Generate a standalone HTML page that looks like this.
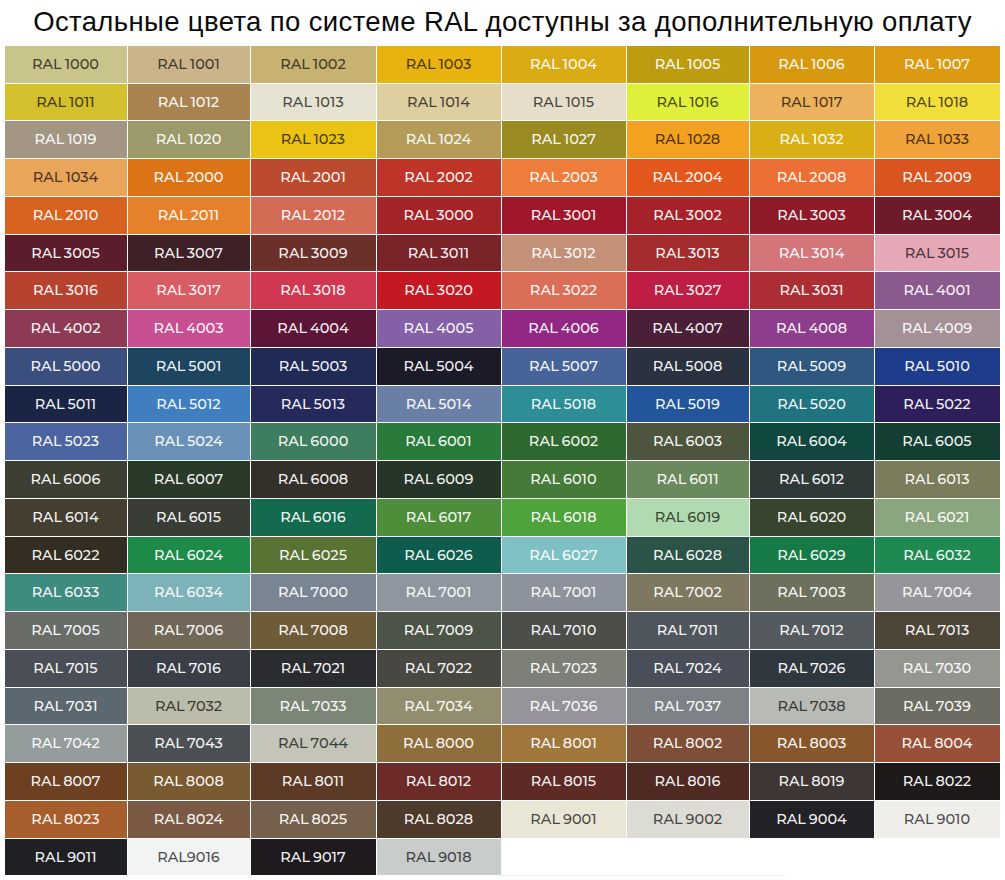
<!DOCTYPE html>
<html lang="ru"><head><meta charset="utf-8"><title>RAL</title>
<style>
html,body{margin:0;padding:0;background:#fff;}
body{width:1005px;height:880px;position:relative;overflow:hidden;}
h1{position:absolute;left:0;top:8px;width:1005px;margin:0;text-align:center;font:400 27.5px/1 "Liberation Sans",Arial,sans-serif;letter-spacing:0.37px;color:#0a0a0a;white-space:nowrap;}
.c{position:absolute;box-sizing:border-box;padding-right:1px;display:flex;align-items:center;justify-content:center;font:500 14.5px/1 "Montserrat","DejaVu Sans",sans-serif;word-spacing:-1px;color:rgba(255,255,255,.96);white-space:nowrap;}
.d{color:rgba(0,0,0,.7);}
</style></head><body>
<h1>Остальные цвета по системе RAL доступны за дополнительную оплату</h1>
<div class="c d" style="left:5px;top:46px;width:122px;height:37px;background:#C9C48C"><span>RAL 1000</span></div>
<div class="c d" style="left:128px;top:46px;width:122px;height:37px;background:#CBB48A"><span>RAL 1001</span></div>
<div class="c d" style="left:251px;top:46px;width:125px;height:37px;background:#C7B272"><span>RAL 1002</span></div>
<div class="c d" style="left:377px;top:46px;width:124px;height:37px;background:#E8B30F"><span>RAL 1003</span></div>
<div class="c" style="left:502px;top:46px;width:124px;height:37px;background:#DAAB14"><span>RAL 1004</span></div>
<div class="c" style="left:627px;top:46px;width:122px;height:37px;background:#BE9C10"><span>RAL 1005</span></div>
<div class="c" style="left:750px;top:46px;width:124px;height:37px;background:#D6990F"><span>RAL 1006</span></div>
<div class="c" style="left:875px;top:46px;width:125px;height:37px;background:#DC9A12"><span>RAL 1007</span></div>
<div class="c d" style="left:5px;top:84px;width:122px;height:36px;background:#D4BF2C"><span>RAL 1011</span></div>
<div class="c" style="left:128px;top:84px;width:122px;height:36px;background:#A8834F"><span>RAL 1012</span></div>
<div class="c d" style="left:251px;top:84px;width:125px;height:36px;background:#E6E3D3"><span>RAL 1013</span></div>
<div class="c d" style="left:377px;top:84px;width:124px;height:36px;background:#DDCFA0"><span>RAL 1014</span></div>
<div class="c d" style="left:502px;top:84px;width:124px;height:36px;background:#E6DECB"><span>RAL 1015</span></div>
<div class="c d" style="left:627px;top:84px;width:122px;height:36px;background:#E0F03A"><span>RAL 1016</span></div>
<div class="c d" style="left:750px;top:84px;width:124px;height:36px;background:#EDB25E"><span>RAL 1017</span></div>
<div class="c d" style="left:875px;top:84px;width:125px;height:36px;background:#F2DE3A"><span>RAL 1018</span></div>
<div class="c" style="left:5px;top:121px;width:122px;height:37px;background:#A39684"><span>RAL 1019</span></div>
<div class="c" style="left:128px;top:121px;width:122px;height:37px;background:#9C9A6A"><span>RAL 1020</span></div>
<div class="c d" style="left:251px;top:121px;width:125px;height:37px;background:#EAC314"><span>RAL 1023</span></div>
<div class="c" style="left:377px;top:121px;width:124px;height:37px;background:#B49B58"><span>RAL 1024</span></div>
<div class="c" style="left:502px;top:121px;width:124px;height:37px;background:#9A8A22"><span>RAL 1027</span></div>
<div class="c d" style="left:627px;top:121px;width:122px;height:37px;background:#F2A220"><span>RAL 1028</span></div>
<div class="c" style="left:750px;top:121px;width:124px;height:37px;background:#D8B016"><span>RAL 1032</span></div>
<div class="c d" style="left:875px;top:121px;width:125px;height:37px;background:#EFA33A"><span>RAL 1033</span></div>
<div class="c d" style="left:5px;top:159px;width:122px;height:37px;background:#E9A55A"><span>RAL 1034</span></div>
<div class="c" style="left:128px;top:159px;width:122px;height:37px;background:#DB7417"><span>RAL 2000</span></div>
<div class="c" style="left:251px;top:159px;width:125px;height:37px;background:#BC4A2E"><span>RAL 2001</span></div>
<div class="c" style="left:377px;top:159px;width:124px;height:37px;background:#BE3428"><span>RAL 2002</span></div>
<div class="c" style="left:502px;top:159px;width:124px;height:37px;background:#EE7C3A"><span>RAL 2003</span></div>
<div class="c" style="left:627px;top:159px;width:122px;height:37px;background:#E4571C"><span>RAL 2004</span></div>
<div class="c" style="left:750px;top:159px;width:124px;height:37px;background:#EC7035"><span>RAL 2008</span></div>
<div class="c" style="left:875px;top:159px;width:125px;height:37px;background:#D9541E"><span>RAL 2009</span></div>
<div class="c" style="left:5px;top:197px;width:122px;height:37px;background:#D8621F"><span>RAL 2010</span></div>
<div class="c" style="left:128px;top:197px;width:122px;height:37px;background:#E6812B"><span>RAL 2011</span></div>
<div class="c" style="left:251px;top:197px;width:125px;height:37px;background:#D46B55"><span>RAL 2012</span></div>
<div class="c" style="left:377px;top:197px;width:124px;height:37px;background:#A42428"><span>RAL 3000</span></div>
<div class="c" style="left:502px;top:197px;width:124px;height:37px;background:#A0162A"><span>RAL 3001</span></div>
<div class="c" style="left:627px;top:197px;width:122px;height:37px;background:#A6232C"><span>RAL 3002</span></div>
<div class="c" style="left:750px;top:197px;width:124px;height:37px;background:#8E1A2A"><span>RAL 3003</span></div>
<div class="c" style="left:875px;top:197px;width:125px;height:37px;background:#6E1A28"><span>RAL 3004</span></div>
<div class="c" style="left:5px;top:235px;width:122px;height:36px;background:#5B1D2B"><span>RAL 3005</span></div>
<div class="c" style="left:128px;top:235px;width:122px;height:36px;background:#3E2126"><span>RAL 3007</span></div>
<div class="c" style="left:251px;top:235px;width:125px;height:36px;background:#6B302A"><span>RAL 3009</span></div>
<div class="c" style="left:377px;top:235px;width:124px;height:36px;background:#7A2328"><span>RAL 3011</span></div>
<div class="c" style="left:502px;top:235px;width:124px;height:36px;background:#C49078"><span>RAL 3012</span></div>
<div class="c" style="left:627px;top:235px;width:122px;height:36px;background:#A52C2C"><span>RAL 3013</span></div>
<div class="c" style="left:750px;top:235px;width:124px;height:36px;background:#D4757A"><span>RAL 3014</span></div>
<div class="c d" style="left:875px;top:235px;width:125px;height:36px;background:#E6A8B6"><span>RAL 3015</span></div>
<div class="c" style="left:5px;top:272px;width:122px;height:37px;background:#B84230"><span>RAL 3016</span></div>
<div class="c" style="left:128px;top:272px;width:122px;height:37px;background:#D85C63"><span>RAL 3017</span></div>
<div class="c" style="left:251px;top:272px;width:125px;height:37px;background:#CF3850"><span>RAL 3018</span></div>
<div class="c" style="left:377px;top:272px;width:124px;height:37px;background:#C41822"><span>RAL 3020</span></div>
<div class="c" style="left:502px;top:272px;width:124px;height:37px;background:#DA6E56"><span>RAL 3022</span></div>
<div class="c" style="left:627px;top:272px;width:122px;height:37px;background:#BE1E44"><span>RAL 3027</span></div>
<div class="c" style="left:750px;top:272px;width:124px;height:37px;background:#AC2E34"><span>RAL 3031</span></div>
<div class="c" style="left:875px;top:272px;width:125px;height:37px;background:#8A5A8E"><span>RAL 4001</span></div>
<div class="c" style="left:5px;top:310px;width:122px;height:37px;background:#8E3A55"><span>RAL 4002</span></div>
<div class="c" style="left:128px;top:310px;width:122px;height:37px;background:#C84F92"><span>RAL 4003</span></div>
<div class="c" style="left:251px;top:310px;width:125px;height:37px;background:#5C1537"><span>RAL 4004</span></div>
<div class="c" style="left:377px;top:310px;width:124px;height:37px;background:#8460A6"><span>RAL 4005</span></div>
<div class="c" style="left:502px;top:310px;width:124px;height:37px;background:#922884"><span>RAL 4006</span></div>
<div class="c" style="left:627px;top:310px;width:122px;height:37px;background:#4A1F38"><span>RAL 4007</span></div>
<div class="c" style="left:750px;top:310px;width:124px;height:37px;background:#8E3D8C"><span>RAL 4008</span></div>
<div class="c" style="left:875px;top:310px;width:125px;height:37px;background:#A49198"><span>RAL 4009</span></div>
<div class="c" style="left:5px;top:348px;width:122px;height:37px;background:#3B4F7E"><span>RAL 5000</span></div>
<div class="c" style="left:128px;top:348px;width:122px;height:37px;background:#1D4560"><span>RAL 5001</span></div>
<div class="c" style="left:251px;top:348px;width:125px;height:37px;background:#1F2A55"><span>RAL 5003</span></div>
<div class="c" style="left:377px;top:348px;width:124px;height:37px;background:#1A1A28"><span>RAL 5004</span></div>
<div class="c" style="left:502px;top:348px;width:124px;height:37px;background:#46639A"><span>RAL 5007</span></div>
<div class="c" style="left:627px;top:348px;width:122px;height:37px;background:#2A3240"><span>RAL 5008</span></div>
<div class="c" style="left:750px;top:348px;width:124px;height:37px;background:#2E5880"><span>RAL 5009</span></div>
<div class="c" style="left:875px;top:348px;width:125px;height:37px;background:#1E3C8C"><span>RAL 5010</span></div>
<div class="c" style="left:5px;top:386px;width:122px;height:36px;background:#1A2444"><span>RAL 5011</span></div>
<div class="c" style="left:128px;top:386px;width:122px;height:36px;background:#3F7FC0"><span>RAL 5012</span></div>
<div class="c" style="left:251px;top:386px;width:125px;height:36px;background:#252A5A"><span>RAL 5013</span></div>
<div class="c" style="left:377px;top:386px;width:124px;height:36px;background:#6A7FA5"><span>RAL 5014</span></div>
<div class="c" style="left:502px;top:386px;width:124px;height:36px;background:#2E8E98"><span>RAL 5018</span></div>
<div class="c" style="left:627px;top:386px;width:122px;height:36px;background:#23559A"><span>RAL 5019</span></div>
<div class="c" style="left:750px;top:386px;width:124px;height:36px;background:#20747F"><span>RAL 5020</span></div>
<div class="c" style="left:875px;top:386px;width:125px;height:36px;background:#2E1E5C"><span>RAL 5022</span></div>
<div class="c" style="left:5px;top:423px;width:122px;height:37px;background:#4C64A0"><span>RAL 5023</span></div>
<div class="c" style="left:128px;top:423px;width:122px;height:37px;background:#6A92B8"><span>RAL 5024</span></div>
<div class="c" style="left:251px;top:423px;width:125px;height:37px;background:#3E7E5E"><span>RAL 6000</span></div>
<div class="c" style="left:377px;top:423px;width:124px;height:37px;background:#2A7A3A"><span>RAL 6001</span></div>
<div class="c" style="left:502px;top:423px;width:124px;height:37px;background:#2E6A30"><span>RAL 6002</span></div>
<div class="c" style="left:627px;top:423px;width:122px;height:37px;background:#4E553E"><span>RAL 6003</span></div>
<div class="c" style="left:750px;top:423px;width:124px;height:37px;background:#104840"><span>RAL 6004</span></div>
<div class="c" style="left:875px;top:423px;width:125px;height:37px;background:#153F32"><span>RAL 6005</span></div>
<div class="c" style="left:5px;top:461px;width:122px;height:37px;background:#3E3F33"><span>RAL 6006</span></div>
<div class="c" style="left:128px;top:461px;width:122px;height:37px;background:#2A3A28"><span>RAL 6007</span></div>
<div class="c" style="left:251px;top:461px;width:125px;height:37px;background:#33302A"><span>RAL 6008</span></div>
<div class="c" style="left:377px;top:461px;width:124px;height:37px;background:#253528"><span>RAL 6009</span></div>
<div class="c" style="left:502px;top:461px;width:124px;height:37px;background:#457A38"><span>RAL 6010</span></div>
<div class="c" style="left:627px;top:461px;width:122px;height:37px;background:#6A8A5E"><span>RAL 6011</span></div>
<div class="c" style="left:750px;top:461px;width:124px;height:37px;background:#2F3A38"><span>RAL 6012</span></div>
<div class="c" style="left:875px;top:461px;width:125px;height:37px;background:#7A7C5C"><span>RAL 6013</span></div>
<div class="c" style="left:5px;top:499px;width:122px;height:37px;background:#433E30"><span>RAL 6014</span></div>
<div class="c" style="left:128px;top:499px;width:122px;height:37px;background:#3A3C36"><span>RAL 6015</span></div>
<div class="c" style="left:251px;top:499px;width:125px;height:37px;background:#146A4E"><span>RAL 6016</span></div>
<div class="c" style="left:377px;top:499px;width:124px;height:37px;background:#4C8E3A"><span>RAL 6017</span></div>
<div class="c" style="left:502px;top:499px;width:124px;height:37px;background:#4EA33A"><span>RAL 6018</span></div>
<div class="c d" style="left:627px;top:499px;width:122px;height:37px;background:#B2DAB0"><span>RAL 6019</span></div>
<div class="c" style="left:750px;top:499px;width:124px;height:37px;background:#37442E"><span>RAL 6020</span></div>
<div class="c" style="left:875px;top:499px;width:125px;height:37px;background:#8AA67E"><span>RAL 6021</span></div>
<div class="c" style="left:5px;top:537px;width:122px;height:36px;background:#332D22"><span>RAL 6022</span></div>
<div class="c" style="left:128px;top:537px;width:122px;height:36px;background:#1E8A4A"><span>RAL 6024</span></div>
<div class="c" style="left:251px;top:537px;width:125px;height:36px;background:#587334"><span>RAL 6025</span></div>
<div class="c" style="left:377px;top:537px;width:124px;height:36px;background:#0E5C4E"><span>RAL 6026</span></div>
<div class="c" style="left:502px;top:537px;width:124px;height:36px;background:#7EC0C4"><span>RAL 6027</span></div>
<div class="c" style="left:627px;top:537px;width:122px;height:36px;background:#2B5448"><span>RAL 6028</span></div>
<div class="c" style="left:750px;top:537px;width:124px;height:36px;background:#157A45"><span>RAL 6029</span></div>
<div class="c" style="left:875px;top:537px;width:125px;height:36px;background:#1E8A52"><span>RAL 6032</span></div>
<div class="c" style="left:5px;top:574px;width:122px;height:37px;background:#3E8C80"><span>RAL 6033</span></div>
<div class="c" style="left:128px;top:574px;width:122px;height:37px;background:#7CB2B8"><span>RAL 6034</span></div>
<div class="c" style="left:251px;top:574px;width:125px;height:37px;background:#7A8594"><span>RAL 7000</span></div>
<div class="c" style="left:377px;top:574px;width:124px;height:37px;background:#8E96A0"><span>RAL 7001</span></div>
<div class="c" style="left:502px;top:574px;width:124px;height:37px;background:#8C939C"><span>RAL 7001</span></div>
<div class="c" style="left:627px;top:574px;width:122px;height:37px;background:#7E7860"><span>RAL 7002</span></div>
<div class="c" style="left:750px;top:574px;width:124px;height:37px;background:#6E705E"><span>RAL 7003</span></div>
<div class="c" style="left:875px;top:574px;width:125px;height:37px;background:#96969A"><span>RAL 7004</span></div>
<div class="c" style="left:5px;top:612px;width:122px;height:37px;background:#6A6C68"><span>RAL 7005</span></div>
<div class="c" style="left:128px;top:612px;width:122px;height:37px;background:#72685A"><span>RAL 7006</span></div>
<div class="c" style="left:251px;top:612px;width:125px;height:37px;background:#6E5C38"><span>RAL 7008</span></div>
<div class="c" style="left:377px;top:612px;width:124px;height:37px;background:#4C5448"><span>RAL 7009</span></div>
<div class="c" style="left:502px;top:612px;width:124px;height:37px;background:#4C4E4A"><span>RAL 7010</span></div>
<div class="c" style="left:627px;top:612px;width:122px;height:37px;background:#4F565E"><span>RAL 7011</span></div>
<div class="c" style="left:750px;top:612px;width:124px;height:37px;background:#555A5E"><span>RAL 7012</span></div>
<div class="c" style="left:875px;top:612px;width:125px;height:37px;background:#4D4638"><span>RAL 7013</span></div>
<div class="c" style="left:5px;top:650px;width:122px;height:37px;background:#4A4E56"><span>RAL 7015</span></div>
<div class="c" style="left:128px;top:650px;width:122px;height:37px;background:#3A3E46"><span>RAL 7016</span></div>
<div class="c" style="left:251px;top:650px;width:125px;height:37px;background:#2A2C30"><span>RAL 7021</span></div>
<div class="c" style="left:377px;top:650px;width:124px;height:37px;background:#484742"><span>RAL 7022</span></div>
<div class="c" style="left:502px;top:650px;width:124px;height:37px;background:#7C8076"><span>RAL 7023</span></div>
<div class="c" style="left:627px;top:650px;width:122px;height:37px;background:#4A4E58"><span>RAL 7024</span></div>
<div class="c" style="left:750px;top:650px;width:124px;height:37px;background:#2E383E"><span>RAL 7026</span></div>
<div class="c" style="left:875px;top:650px;width:125px;height:37px;background:#969690"><span>RAL 7030</span></div>
<div class="c" style="left:5px;top:688px;width:122px;height:36px;background:#5C6870"><span>RAL 7031</span></div>
<div class="c d" style="left:128px;top:688px;width:122px;height:36px;background:#BCBCAA"><span>RAL 7032</span></div>
<div class="c" style="left:251px;top:688px;width:125px;height:36px;background:#7C8676"><span>RAL 7033</span></div>
<div class="c" style="left:377px;top:688px;width:124px;height:36px;background:#928D6E"><span>RAL 7034</span></div>
<div class="c" style="left:502px;top:688px;width:124px;height:36px;background:#96949A"><span>RAL 7036</span></div>
<div class="c" style="left:627px;top:688px;width:122px;height:36px;background:#7E8286"><span>RAL 7037</span></div>
<div class="c d" style="left:750px;top:688px;width:124px;height:36px;background:#B8BAB6"><span>RAL 7038</span></div>
<div class="c" style="left:875px;top:688px;width:125px;height:36px;background:#6C6C62"><span>RAL 7039</span></div>
<div class="c" style="left:5px;top:725px;width:122px;height:37px;background:#959C9C"><span>RAL 7042</span></div>
<div class="c" style="left:128px;top:725px;width:122px;height:37px;background:#4C5054"><span>RAL 7043</span></div>
<div class="c d" style="left:251px;top:725px;width:125px;height:37px;background:#C4C4B8"><span>RAL 7044</span></div>
<div class="c" style="left:377px;top:725px;width:124px;height:37px;background:#8E6E3A"><span>RAL 8000</span></div>
<div class="c" style="left:502px;top:725px;width:124px;height:37px;background:#A0763A"><span>RAL 8001</span></div>
<div class="c" style="left:627px;top:725px;width:122px;height:37px;background:#7E4E36"><span>RAL 8002</span></div>
<div class="c" style="left:750px;top:725px;width:124px;height:37px;background:#88562C"><span>RAL 8003</span></div>
<div class="c" style="left:875px;top:725px;width:125px;height:37px;background:#985038"><span>RAL 8004</span></div>
<div class="c" style="left:5px;top:763px;width:122px;height:37px;background:#6E4022"><span>RAL 8007</span></div>
<div class="c" style="left:128px;top:763px;width:122px;height:37px;background:#7A5A30"><span>RAL 8008</span></div>
<div class="c" style="left:251px;top:763px;width:125px;height:37px;background:#5C3A26"><span>RAL 8011</span></div>
<div class="c" style="left:377px;top:763px;width:124px;height:37px;background:#6C2A28"><span>RAL 8012</span></div>
<div class="c" style="left:502px;top:763px;width:124px;height:37px;background:#5E2A26"><span>RAL 8015</span></div>
<div class="c" style="left:627px;top:763px;width:122px;height:37px;background:#4E2A22"><span>RAL 8016</span></div>
<div class="c" style="left:750px;top:763px;width:124px;height:37px;background:#3E3634"><span>RAL 8019</span></div>
<div class="c" style="left:875px;top:763px;width:125px;height:37px;background:#1E1A1A"><span>RAL 8022</span></div>
<div class="c" style="left:5px;top:801px;width:122px;height:37px;background:#A85D2D"><span>RAL 8023</span></div>
<div class="c" style="left:128px;top:801px;width:122px;height:37px;background:#7A5A44"><span>RAL 8024</span></div>
<div class="c" style="left:251px;top:801px;width:125px;height:37px;background:#75604E"><span>RAL 8025</span></div>
<div class="c" style="left:377px;top:801px;width:124px;height:37px;background:#4E3A2A"><span>RAL 8028</span></div>
<div class="c d" style="left:502px;top:801px;width:124px;height:37px;background:#EAE6D6"><span>RAL 9001</span></div>
<div class="c d" style="left:627px;top:801px;width:122px;height:37px;background:#DCDCD4"><span>RAL 9002</span></div>
<div class="c" style="left:750px;top:801px;width:124px;height:37px;background:#222226"><span>RAL 9004</span></div>
<div class="c d" style="left:875px;top:801px;width:125px;height:37px;background:#F0EEEA"><span>RAL 9010</span></div>
<div class="c" style="left:5px;top:839px;width:122px;height:36px;background:#1E2024"><span>RAL 9011</span></div>
<div class="c d" style="left:128px;top:839px;width:122px;height:36px;background:#F2F3F3"><span>RAL9016</span></div>
<div class="c" style="left:251px;top:839px;width:125px;height:36px;background:#1E1A1E"><span>RAL 9017</span></div>
<div class="c d" style="left:377px;top:839px;width:124px;height:36px;background:#C8CCCA"><span>RAL 9018</span></div>
<div style="position:absolute;left:501px;top:875px;width:284px;height:1px;background:#f0f0f0"></div>
</body></html>
